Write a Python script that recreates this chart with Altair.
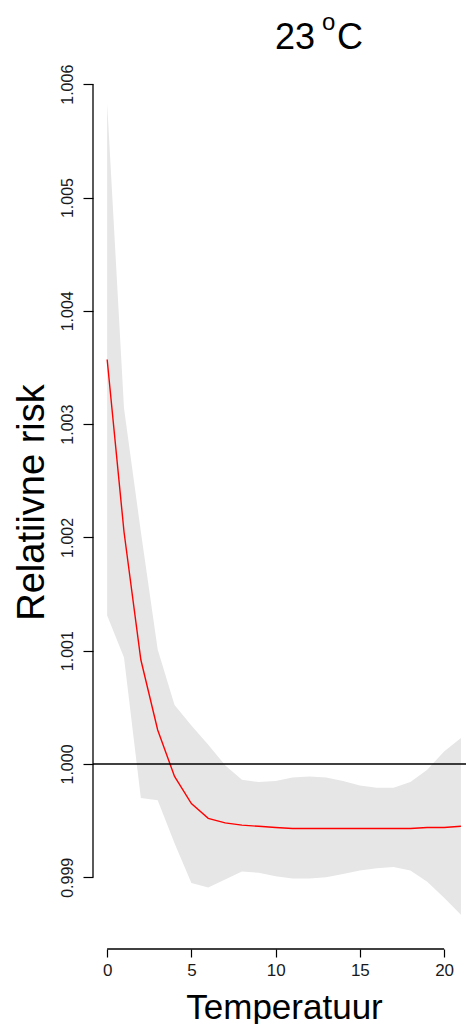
import altair as alt
import pandas as pd

# ---- data ----
temperature = list(range(22))
rr = [1.00357, 1.00205, 1.00092, 1.00030, 0.99989, 0.99965, 0.99952, 0.99948,
      0.99946, 0.99945, 0.99944, 0.99943, 0.99943, 0.99943, 0.99943, 0.99943,
      0.99943, 0.99943, 0.99943, 0.99944, 0.99944, 0.99945]
upper = [1.00583, 1.00314, 1.00205, 1.00101, 1.00052, 1.00034, 1.00017, 0.99999,
         0.99986, 0.99984, 0.99985, 0.99988, 0.99989, 0.99988, 0.99985, 0.99981,
         0.99979, 0.99979, 0.99984, 0.99995, 1.00011, 1.00023]
lower = [1.00131, 1.00094, 0.99970, 0.99968, 0.99930, 0.99895, 0.99891, 0.99898,
         0.99905, 0.99904, 0.99901, 0.99899, 0.99899, 0.99900, 0.99903, 0.99906,
         0.99908, 0.99909, 0.99906, 0.99896, 0.99882, 0.99867]
x_ticks = [0, 5, 10, 15, 20]
y_ticks = [0.999, 1.000, 1.001, 1.002, 1.003, 1.004, 1.005, 1.006]
reference_level = 1.0

title_main = "23"
title_sup = "o"
title_unit = "C"
x_title = "Temperatuur"
y_title = "Relatiivne risk"

W = 373
H = 883
FONT = "Liberation Sans"

df = pd.DataFrame({"t": temperature, "rr": rr, "lo": lower, "hi": upper})

xs = alt.Scale(domain=[-0.84, 21.3], nice=False, zero=False)
ys = alt.Scale(domain=[0.998367, 1.006161], nice=False, zero=False)

x_axis = alt.Axis(values=x_ticks, domain=False, grid=False, tickSize=8,
                  tickColor="black", tickWidth=1.2, labelFontSize=17,
                  labelFont=FONT, labelColor="#1a1a1a", labelPadding=5,
                  title=x_title, titleFontSize=35, titleFont=FONT,
                  titleFontWeight="normal", titleColor="black",
                  titleX=191, titleY=69, titleBaseline="alphabetic")
y_axis = alt.Axis(values=y_ticks, format=".3f", domain=False, grid=False,
                  tickSize=10, tickColor="black", tickWidth=1.2,
                  labelFontSize=16, labelFont=FONT, labelColor="#1a1a1a",
                  labelAngle=-90, labelAlign="center", labelBaseline="bottom",
                  labelPadding=8,
                  title=y_title, titleFontSize=38, titleFont=FONT,
                  titleFontWeight="normal", titleColor="black",
                  titleAngle=-90, titleX=-50, titleY=436,
                  titleAlign="center", titleBaseline="alphabetic")

base = alt.Chart(df)

band = base.mark_area(color="#e6e6e6", opacity=1).encode(
    x=alt.X("t:Q", scale=xs, axis=x_axis),
    y=alt.Y("lo:Q", scale=ys, axis=y_axis),
    y2="hi:Q",
)

line = base.mark_line(color="#ff0000", strokeWidth=1.4).encode(
    x=alt.X("t:Q", scale=xs),
    y=alt.Y("rr:Q", scale=ys),
)

one = alt.Data(values=[{"k": 1}])

hline = alt.Chart(one).mark_rule(color="black", strokeWidth=1.3).encode(
    y=alt.Y(datum=reference_level, scale=ys),
    x=alt.value(0),
    x2=alt.value(W),
)

x_dom = alt.Chart(one).mark_rule(color="black", strokeWidth=1.3).encode(
    x=alt.X(datum=x_ticks[0], scale=xs),
    x2=alt.datum(x_ticks[-1]),
    y=alt.value(H),
)

y_dom = alt.Chart(one).mark_rule(color="black", strokeWidth=1.3).encode(
    y=alt.Y(datum=y_ticks[0], scale=ys),
    y2=alt.datum(y_ticks[-1]),
    x=alt.value(0),
)

t1 = alt.Chart(one).mark_text(font=FONT, fontSize=36, align="left",
                              baseline="alphabetic", color="black").encode(
    x=alt.value(182), y=alt.value(-17), text=alt.value(title_main))
t2 = alt.Chart(one).mark_text(font=FONT, fontSize=24, align="left",
                              baseline="alphabetic", color="black").encode(
    x=alt.value(229), y=alt.value(-36), text=alt.value(title_sup))
t3 = alt.Chart(one).mark_text(font=FONT, fontSize=36, align="left",
                              baseline="alphabetic", color="black").encode(
    x=alt.value(244), y=alt.value(-17), text=alt.value(title_unit))

chart = alt.layer(band, line, hline, x_dom, y_dom, t1, t2, t3).properties(
    width=W, height=H,
    autosize=alt.AutoSizeParams(type="none"),
    padding={"left": 85, "top": 58, "right": 0, "bottom": 75},
    background="white",
).configure_view(strokeWidth=0)

chart.save("out.html", embed_options={"renderer": "svg", "actions": False})
